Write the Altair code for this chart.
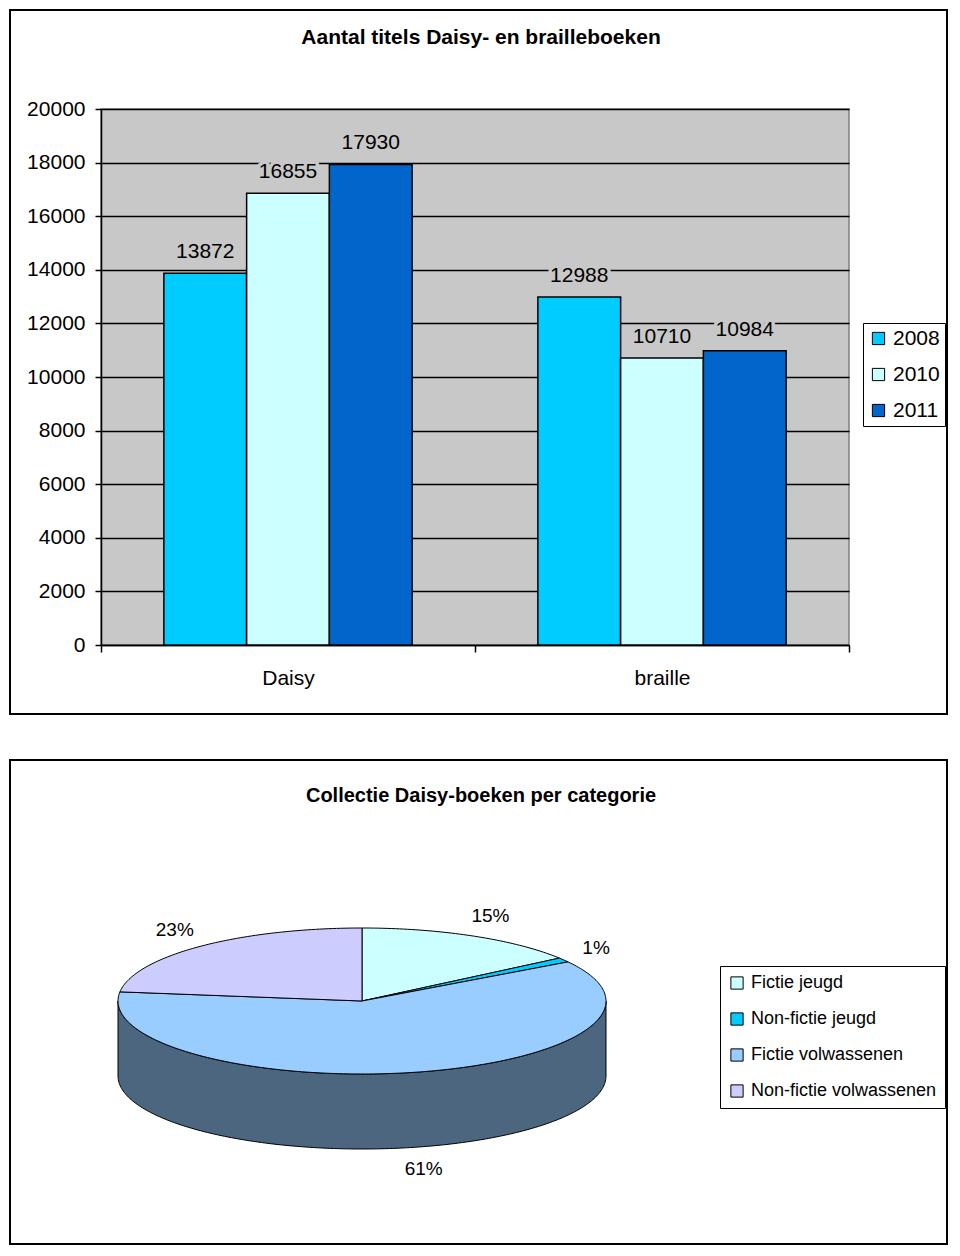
import math
import altair as alt
import pandas as pd

# ---------------- data ----------------
groups = ["Daisy", "braille"]
years = ["2008", "2010", "2011"]
daisy_vals = [13872, 16855, 17930]
braille_vals = [12988, 10710, 10984]
year_colors = ["#00CCFF", "#CCFFFF", "#0066CC"]
y_ticks = [0, 2000, 4000, 6000, 8000, 10000, 12000, 14000, 16000, 18000, 20000]

categories = ["Fictie jeugd", "Non-fictie jeugd", "Fictie volwassenen", "Non-fictie volwassenen"]
shares = [15, 1, 61, 23]
pie_colors = ["#CCFFFF", "#00CCFF", "#99CCFF", "#CCCCFF"]

FONT = "Liberation Sans"
PLOT_BG = "#C8C8C8"
RIGHT = 846  # right edge of the panel frames, relative to plot origin

# ---------------- top chart: grouped bars ----------------
rows = []
for g, vals in zip(groups, [daisy_vals, braille_vals]):
    for y, v in zip(years, vals):
        rows.append({"group": g, "year": y, "value": v})
bars_df = pd.DataFrame(rows)

x_enc = alt.X("group:N", scale=alt.Scale(domain=groups, paddingInner=0, paddingOuter=0),
              axis=alt.Axis(title=None, labelAngle=0, labelFontSize=21, labelColor="black",
                            tickBand="extent", tickSize=7, tickColor="black", domainColor="black",
                            domainWidth=1.5, tickWidth=1.5, labelPadding=15, grid=False))
xo_enc = alt.XOffset("year:N", scale=alt.Scale(domain=years, paddingInner=0, paddingOuter=0.76))
y_enc = alt.Y("value:Q", scale=alt.Scale(domain=[0, 20000], nice=False),
              axis=alt.Axis(title=None, values=y_ticks, format="d", labelFontSize=21, labelColor="black",
                            tickSize=6, tickColor="black", tickWidth=1.5, domainColor="black",
                            domainWidth=1.5, labelPadding=10, grid=True, gridColor="black", gridWidth=1.5))

base = alt.Chart(bars_df)
bars = base.mark_bar(stroke="black", strokeWidth=1.5).encode(
    x=x_enc, xOffset=xo_enc, y=y_enc,
    color=alt.Color("year:N", scale=alt.Scale(domain=years, range=year_colors),
                    legend=alt.Legend(title=None, orient="none", legendX=762, legendY=214,
                                      strokeColor="black", fillColor="white", padding=5,
                                      symbolType="square", symbolSize=150, symbolStrokeColor="black",
                                      symbolStrokeWidth=1, labelFontSize=21, labelColor="black",
                                      rowPadding=14, labelOffset=4)),
)
halo = base.mark_text(fontSize=21, dy=-15, baseline="alphabetic", stroke=PLOT_BG, strokeWidth=7,
                      fill=PLOT_BG, strokeJoin="round").encode(
    x="group:N", xOffset="year:N", y="value:Q", text=alt.Text("value:Q", format="d"))
labels = base.mark_text(fontSize=21, dy=-15, baseline="alphabetic", color="black").encode(
    x="group:N", xOffset="year:N", y="value:Q", text=alt.Text("value:Q", format="d"))

one = pd.DataFrame({"k": [0]})
top_border = alt.Chart(one).mark_rect(filled=False, stroke="black", strokeWidth=2).encode(
    x=alt.value(-91), x2=alt.value(RIGHT), y=alt.value(-99), y2=alt.value(605))
top_title = alt.Chart(one).mark_text(fontSize=21, fontWeight="bold", align="center",
                                     baseline="middle", color="black").encode(
    x=alt.value(380), y=alt.value(-71), text=alt.value("Aantal titels Daisy- en brailleboeken"))

top = alt.layer(bars, halo, labels, top_border, top_title).properties(
    width=748, height=536, view=alt.ViewBackground(fill=PLOT_BG, stroke="#808080", strokeWidth=1.5))

# ---------------- bottom chart: 3D pie ----------------
RY = 73 / 244.0
DEPTH = 75 / 244.0


def pt(a_deg, drop=0.0):
    a = math.radians(a_deg)
    return [math.sin(a), RY * math.cos(a) - drop]


def arc(a0, a1, drop=0.0):
    n = max(2, int(abs(a1 - a0) / 1.0) + 2)
    return [pt(a0 + (a1 - a0) * i / (n - 1), drop) for i in range(n)]


def darker(hexcol):
    r, g, b = int(hexcol[1:3], 16), int(hexcol[3:5], 16), int(hexcol[5:7], 16)
    return "#%02X%02X%02X" % (r // 2, g // 2, b // 2)


total = float(sum(shares))
starts, ends = [], []
acc = 0.0
for s in shares:
    starts.append(acc / total * 360.0)
    acc += s
    ends.append(acc / total * 360.0)

top_features, side_features, lab_rows = [], [], []
for cat, s, a0, a1, col in zip(categories, shares, starts, ends, pie_colors):
    ring = [[0.0, 0.0]] + arc(a0, a1) + [[0.0, 0.0]]
    top_features.append({"type": "Feature", "properties": {"cat": cat},
                         "geometry": {"type": "Polygon", "coordinates": [ring]}})
    b0, b1 = max(a0, 90.0), min(a1, 270.0)
    if b1 > b0:
        sring = arc(b0, b1) + arc(b1, b0, DEPTH)
        sring.append(sring[0])
        side_features.append({"type": "Feature", "properties": {"cat": cat, "side": darker(col)},
                              "geometry": {"type": "Polygon", "coordinates": [sring]}})
    mid = math.radians((a0 + a1) / 2.0)
    lx = 1.16 * math.sin(mid)
    ly = 1.3 * RY * math.cos(mid) - (DEPTH if math.cos(mid) < 0 else 0.0)
    lab_rows.append({"lon": lx, "lat": ly, "label": "%d%%" % s})

# bottom panel origin sits at page y 757; pie centre at page (361, 998)
proj = dict(type="identity", reflectY=True, scale=244, translate=[261, 241])

sides = alt.Chart(alt.Data(values=side_features)).mark_geoshape(stroke="black", strokeWidth=1).encode(
    color=alt.Color("properties.side:N", scale=None)).project(**proj)
tops = alt.Chart(alt.Data(values=top_features)).mark_geoshape(stroke="black", strokeWidth=1).encode(
    color=alt.Color("properties.cat:N", scale=alt.Scale(domain=categories, range=pie_colors),
                    legend=alt.Legend(title=None, orient="none", legendX=619, legendY=206,
                                      strokeColor="black", fillColor="white", padding=8,
                                      symbolType="square", symbolSize=150, symbolStrokeColor="black",
                                      symbolStrokeWidth=1, labelFontSize=18, labelColor="black",
                                      rowPadding=18, labelOffset=5, labelLimit=400))).project(**proj)
pie_labels = alt.Chart(pd.DataFrame(lab_rows)).mark_text(fontSize=19, color="black", align="center",
                                                        baseline="middle").encode(
    longitude="lon:Q", latitude="lat:Q", text="label:N").project(**proj)

bot_border = alt.Chart(one).mark_rect(filled=False, stroke="black", strokeWidth=2).encode(
    x=alt.value(-91), x2=alt.value(RIGHT), y=alt.value(0), y2=alt.value(484))
bot_title = alt.Chart(one).mark_text(fontSize=20, fontWeight="bold", align="center",
                                     baseline="middle", color="black").encode(
    x=alt.value(380), y=alt.value(36), text=alt.value("Collectie Daisy-boeken per categorie"))

bottom = alt.layer(bot_border, bot_title, sides, tops, pie_labels).properties(
    width=RIGHT, height=484, view=alt.ViewBackground(stroke="transparent"))

chart = alt.vconcat(top, bottom, spacing=42).resolve_scale(color="independent").resolve_legend(
    color="independent").properties(padding=0).configure(font=FONT)

chart.save("out.html", embed_options={"renderer": "svg", "actions": False})
